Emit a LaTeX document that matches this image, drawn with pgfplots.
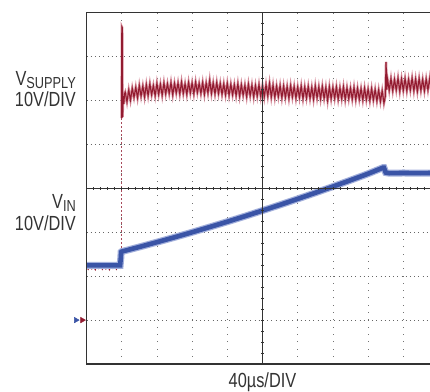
\documentclass[border=0pt]{standalone}
\usepackage{fontspec}
\setmainfont{Liberation Sans}[FakeStretch=0.8]
\usepackage{pgfplots}
\usepackage{pgfplotstable}
\pgfplotsset{compat=1.18}
\definecolor{tred}{HTML}{921B30}
\definecolor{tpink}{HTML}{D68E9C}
\definecolor{tblue}{HTML}{3A54A6}
\definecolor{tlblue}{HTML}{A3B0DC}
\definecolor{frame}{HTML}{333333}

\pgfplotstableread{
x y
1.000 1.60
1.003 3.68
1.015 3.66
1.025 1.62
1.04 2.10
1.06 1.92
1.08 2.15
1.10 2.19
1.15 1.97
1.20 2.24
1.25 2.01
1.30 2.28
1.35 2.07
1.40 2.30
1.45 2.06
1.50 2.34
1.55 2.10
1.60 2.33
1.65 2.08
1.70 2.36
1.75 2.11
1.80 2.38
1.85 2.13
1.90 2.34
1.95 2.11
2.00 2.39
2.05 2.14
2.10 2.37
2.15 2.12
2.20 2.40
2.25 2.15
2.30 2.38
2.35 2.16
2.40 2.41
2.45 2.13
2.50 2.39
2.55 2.17
2.60 2.40
2.65 2.15
2.70 2.42
2.75 2.16
2.80 2.38
2.85 2.14
2.90 2.41
2.95 2.17
3.00 2.40
3.05 2.15
3.10 2.42
3.15 2.18
3.20 2.39
3.25 2.16
3.30 2.41
3.35 2.14
3.40 2.40
3.45 2.17
3.50 2.46
3.55 2.16
3.60 2.40
3.65 2.15
3.70 2.41
3.75 2.16
3.80 2.39
3.85 2.14
3.90 2.38
3.95 2.13
4.00 2.39
4.05 2.12
4.10 2.37
4.15 2.13
4.20 2.36
4.25 2.11
4.30 2.38
4.35 2.10
4.40 2.36
4.45 2.12
4.50 2.35
4.55 2.09
4.60 2.37
4.65 2.11
4.70 2.35
4.75 2.08
4.80 2.34
4.85 2.10
4.90 2.36
4.95 2.09
5.00 2.34
5.05 2.08
5.10 2.36
5.15 2.10
5.20 2.39
5.25 2.08
5.30 2.35
5.35 2.07
5.40 2.33
5.45 2.09
5.50 2.34
5.55 2.06
5.60 2.33
5.65 2.07
5.70 2.32
5.75 2.05
5.80 2.34
5.85 2.08
5.90 2.32
5.95 2.05
6.00 2.31
6.05 2.07
6.10 2.33
6.15 2.04
6.20 2.31
6.25 2.06
6.30 2.32
6.35 2.05
6.40 2.30
6.45 2.03
6.50 2.33
6.55 2.06
6.60 2.31
6.65 2.04
6.70 2.32
6.75 2.05
6.80 2.30
6.85 2.00
6.90 2.31
6.95 2.04
7.00 2.30
7.05 2.05
7.10 2.31
7.15 2.03
7.20 2.29
7.25 2.04
7.30 2.31
7.35 2.02
7.40 2.29
7.45 2.04
7.50 2.28
7.55 2.03
7.60 2.30
7.65 2.02
7.70 2.28
7.75 2.03
7.80 2.27
7.85 2.01
7.90 2.28
7.95 2.02
8.00 2.26
8.05 2.00
8.10 2.27
8.15 2.01
8.20 2.25
8.25 1.99
8.30 2.24
8.35 1.98
8.40 2.22
8.45 1.94
8.49 2.10
8.51 2.88
8.53 2.25
8.55 2.49
8.60 2.23
8.65 2.50
8.70 2.22
8.75 2.48
8.80 2.24
8.85 2.51
8.90 2.21
8.95 2.49
9.00 2.23
9.05 2.50
9.10 2.22
9.15 2.48
9.20 2.24
9.25 2.51
9.30 2.22
9.35 2.49
9.40 2.21
9.45 2.50
9.50 2.23
9.55 2.48
9.60 2.22
9.65 2.49
9.70 2.24
9.75 2.50
9.80 2.23
}\redband

\pgfplotstableread{
x y
0.00 -1.80
0.05 -1.85
0.10 -1.76
0.15 -1.84
0.20 -1.78
0.25 -1.86
0.30 -1.77
0.35 -1.83
0.40 -1.75
0.45 -1.85
0.50 -1.79
0.55 -1.84
0.60 -1.76
0.65 -1.86
0.70 -1.78
0.75 -1.83
0.80 -1.77
0.85 -1.85
0.90 -1.78
0.95 -1.82
0.975 -1.65
0.99 -1.45
}\redpre

\pgfplotstableread{
x y
0.00 -1.755
0.50 -1.755
0.955 -1.755
0.975 -1.58
0.985 -1.45
1.00 -1.44
1.50 -1.335
2.00 -1.226
2.50 -1.115
3.00 -1.00
3.50 -0.881
4.00 -0.760
4.50 -0.635
5.00 -0.506
5.50 -0.375
6.00 -0.240
6.50 -0.102
7.00 0.040
7.50 0.185
8.00 0.333
8.42 0.47
8.45 0.47
8.50 0.36
8.60 0.345
9.00 0.35
9.50 0.345
9.80 0.35
}\bluetrace

\begin{document}
\begin{tikzpicture}
\useasboundingbox (0,0) rectangle (430bp,392bp);
\clip (0,0) rectangle (430bp,392bp);
\begin{axis}[
  at={(86.5bp,28bp)}, anchor=south west,
  scale only axis, width=352bp, height=351.3bp,
  xmin=0, xmax=10, ymin=-4, ymax=4,
  xtick={0,...,10}, ytick={-4,...,4},
  xticklabels={}, yticklabels={},
  major tick length=0pt,
  grid=major,
  major x grid style={black!55, line width=0.8bp, dash pattern=on 0.8bp off 6.5bp},
  major y grid style={black!60, line width=0.8bp, dash pattern=on 0.8bp off 3.4bp},
  axis line style={draw=none},
  clip=false,
]
\addplot[tred, line width=0.8bp] table {\redpre};
\addplot[tred!80, line width=0.6bp, dash pattern=on 2.5bp off 1.5bp] coordinates {(0.995,-1.45) (0.995,1.60)};
\addplot[tpink, line width=2.5bp] table {\redband};
\addplot[tred, line width=1.1bp] table {\redband};
\addplot[tlblue, line width=7bp] table {\bluetrace};
\addplot[tblue, line width=4.6bp] table {\bluetrace};
\addplot[only marks, mark=triangle*, mark size=3.2bp, mark options={rotate=-90, fill=tblue, draw=tblue}] coordinates {(-0.30,-3)};
\addplot[only marks, mark=triangle*, mark size=3.2bp, mark options={rotate=-90, fill=tred, draw=tred}] coordinates {(-0.12,-3)};
\end{axis}
% frame
\draw[frame, line width=1.3bp] (440bp,379.3bp) -- (86.5bp,379.3bp) -- (86.5bp,28bp) -- (440bp,28bp);
% crosshair
\draw[frame, line width=1.1bp] (262.5bp,28bp) -- (262.5bp,379.3bp);
\draw[frame, line width=1.1bp] (86.5bp,203.65bp) -- (440bp,203.65bp);
\foreach \i in {1,...,49} \draw[frame, line width=0.8bp] ({86.5bp+7.04bp*\i},202.0bp) -- ({86.5bp+7.04bp*\i},205.3bp);
\foreach \j in {1,...,31} \draw[frame, line width=0.8bp] (260.8bp,{28bp+10.978bp*\j}) -- (264.2bp,{28bp+10.978bp*\j});
% labels
\node[anchor=base east, inner sep=0pt, font=\fontsize{20.5}{24}\selectfont, text=black!80] at (76bp,306bp) {V\raisebox{-2.2bp}{\fontsize{16}{18}\selectfont SUPPLY}};
\node[anchor=base east, inner sep=0pt, font=\fontsize{20.5}{24}\selectfont, text=black!80] at (76bp,285.3bp) {10V/DIV};
\node[anchor=base east, inner sep=0pt, font=\fontsize{20.5}{24}\selectfont, text=black!80] at (76bp,183bp) {V\raisebox{-2.2bp}{\fontsize{16}{18}\selectfont IN}};
\node[anchor=base east, inner sep=0pt, font=\fontsize{20.5}{24}\selectfont, text=black!80] at (76bp,161bp) {10V/DIV};
\node[anchor=base, inner sep=0pt, font=\fontsize{20.5}{24}\selectfont, text=black!80] at (262.5bp,4.6bp) {40µs/DIV};
\end{tikzpicture}
\end{document}
